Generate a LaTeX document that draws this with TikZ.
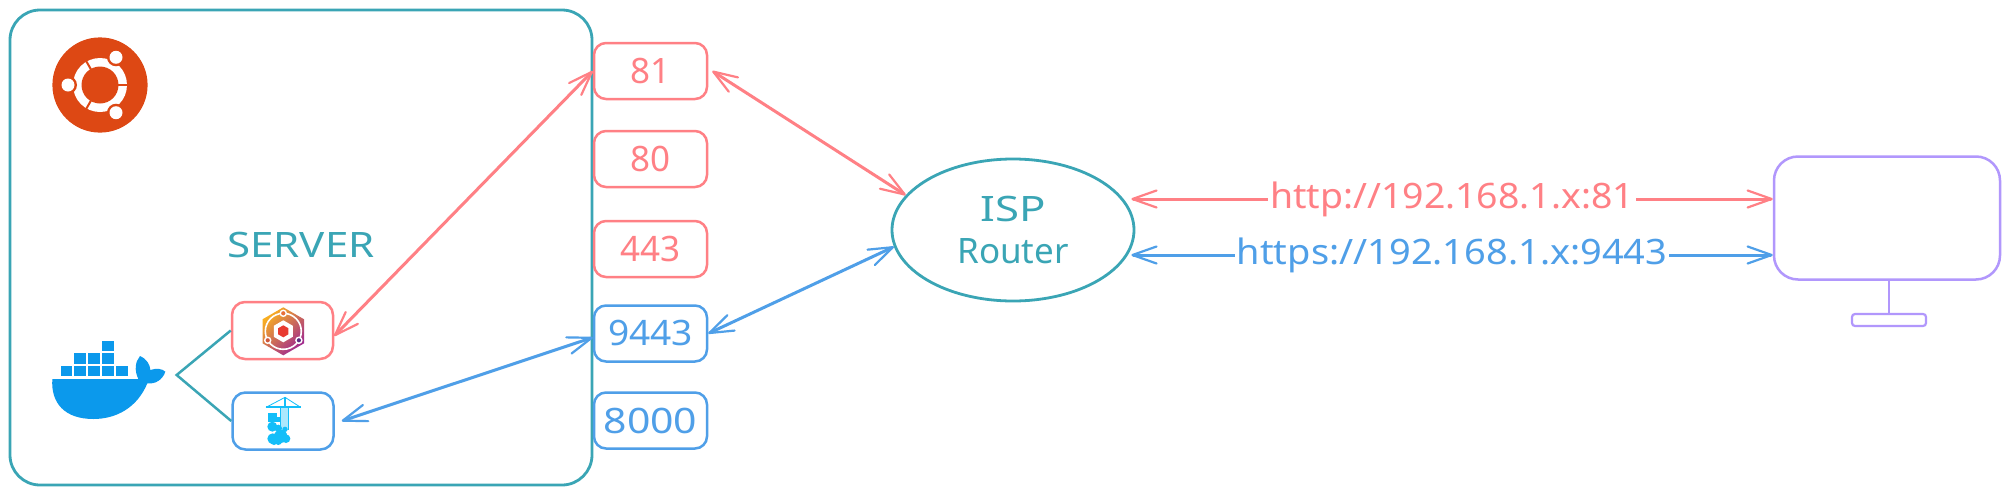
\documentclass[tikz,border=0pt]{standalone}
\usepackage{fontspec}
\usepackage{graphicx}
\setmainfont{Noto Sans}
\usetikzlibrary{arrows.meta,shapes.geometric,calc}
\definecolor{teal1}{HTML}{3AA5B5}
\definecolor{red1}{HTML}{FF8085}
\definecolor{blue1}{HTML}{4F9FE8}
\definecolor{purp}{HTML}{B197FC}
\definecolor{ubu}{HTML}{DD4814}
\definecolor{dock}{HTML}{0B99EC}
\definecolor{ptnc}{HTML}{13BEF9}
\definecolor{npmA}{HTML}{F9B020}
\definecolor{npmB}{HTML}{E83A30}
\definecolor{npmC}{HTML}{A02890}
\definecolor{npmD}{HTML}{E8703A}
\definecolor{npmE}{HTML}{5A2A80}
\definecolor{npmF}{HTML}{D0583A}
\newcommand{\handfont}{\fontsize{17.5}{21.2}\selectfont}
\tikzset{x=0.5pt,y=-0.5pt,
 port/.style={draw,rounded corners=6pt,line width=1.25pt,minimum width=56.5pt,minimum height=28pt,inner sep=0pt,font=\handfont},
 rp/.style={port,draw=red1,text=red1},
 bp/.style={port,draw=blue1,text=blue1},
 iconbox/.style={minimum width=50.5pt,minimum height=28.5pt,rounded corners=6.5pt},
 biarrow/.style={line width=1.5pt,line cap=round,{Straight Barb[length=12pt,width=8.5pt,round,line width=1.1pt]}-{Straight Barb[length=12pt,width=8.5pt,round,line width=1.1pt]}},
 urllabel/.style={fill=white,inner xsep=1pt,inner ysep=0pt,anchor=base,yshift=-4.5pt,font=\handfont},
 zoomunits/.style={x=0.16667pt,y=-0.16667pt},
}
\begin{document}
\begin{tikzpicture}
\useasboundingbox[fill=white] (0,0) rectangle (2010,493);
% server frame
\node[draw=teal1,line width=1.4pt,rounded corners=15pt,minimum width=291pt,minimum height=237.5pt,inner sep=0pt] (srv) at (301,247.5) {};
% ports
\node[rp] (p81) at (650.5,71) {81};
\node[rp] (p80) at (650.5,159) {80};
\node[rp] (p443) at (650.5,249) {443};
\node[bp] (p9443) at (650.5,333.5) {\scalebox{1.06}[1]{9443}};
\node[bp] (p8000) at (650.5,420.5) {\scalebox{1.17}[1]{8000}};
\node[text=teal1,font=\handfont] (lab) at (301,245) {\scalebox{1.2}[1]{SERVER}};
% containers
\node[rp,iconbox] (npm) at (282.5,330.5) {};
\node[bp,iconbox] (ptn) at (283,421) {};
% router and screen
\node[draw=teal1,ellipse,line width=1.4pt,minimum width=121pt,minimum height=71pt,inner sep=0pt,align=center,text=teal1,font=\handfont] (isp) at (1013,230) {\scalebox{1.25}[1]{ISP}\\Router};
\node[draw=purp,line width=1.25pt,rounded corners=12pt,minimum width=113pt,minimum height=61.5pt,inner sep=0pt] (pc) at (1887,218) {};
\node[draw=purp,line width=1.1pt,rounded corners=1.5pt,minimum width=37pt,minimum height=6pt,inner sep=0pt] (base) at (1889,320) {};
\draw[purp,line width=1.25pt] (pc.south -| base.north) -- (base.north);
% ubuntu
\fill[ubu] (100,85) circle[radius=47.6];
\fill[white] (100,85) circle[radius=27];
\fill[ubu] (100,85) circle[radius=18.5];
\foreach \a in {0,120,240}{\draw[ubu,line width=1pt] ($(100,85)+(\a:18)$) -- ($(100,85)+(\a:28)$);}
\foreach \a in {60,180,300}{
 \fill[ubu] ($(100,85)+(\a:32)$) circle[radius=9];
 \fill[white] ($(100,85)+(\a:32)$) circle[radius=6.5];}
% docker
\begin{scope}[shift={(30,320)},zoomunits]
 \fill[dock] (217,62) rectangle ++(35,31);
 \foreach \xx in {133,175,217}{\fill[dock] (\xx,100) rectangle ++(35,31);}
 \foreach \xx in {92,133,175,217,258}{\fill[dock] (\xx,138) rectangle ++(35,31);}
 \fill[dock] (67,177) -- (325,177) .. controls (312,150) and (316,125) .. (330,108)
   .. controls (352,118) and (360,135) .. (361,150) .. controls (380,143) and (398,147) .. (406,155)
   .. controls (398,180) and (375,193) .. (352,190) .. controls (322,262) and (260,297) .. (190,297)
   .. controls (105,297) and (62,250) .. (67,177) -- cycle;
 \coordinate (apex) at (440,165);
\end{scope}
\draw[teal1,line width=1.25pt,line join=miter] (npm.west) -- (apex) -- (ptn.west);
% nginx proxy manager icon
\begin{scope}[shift={(283.3,331.3)}]
 \shade[left color=npmA,middle color=npmB,right color=npmC,shading angle=45]
  (-90:24) -- (-30:24) -- (30:24) -- (90:24) -- (150:24) -- (210:24) -- cycle;
 \draw[white,line width=0.8pt] (0,0) circle[radius=18];
 \fill[white] (-30:11) -- (30:11) -- (90:11) -- (150:11) -- (210:11) -- (270:11) -- cycle;
 \fill[npmB] (-30:6) -- (30:6) -- (90:6) -- (150:6) -- (210:6) -- (270:6) -- cycle;
 \foreach \a/\c in {-90/npmD,30/npmE,150/npmF}{
  \filldraw[draw=white,line width=0.7pt,fill=\c] (\a:18) circle[radius=3];}
\end{scope}
% portainer icon
\begin{scope}[shift={(30,320)},zoomunits]
 \fill[ptnc!35] (752,262) rectangle (775,330);
 \draw[ptnc,line width=0.9pt] (708,262) -- (812,262);
 \draw[ptnc,line width=0.4pt] (708,262) -- (765,232) -- (812,262);
 \draw[ptnc,line width=0.7pt] (765,232) -- (765,262);
 \draw[ptnc,line width=0.7pt] (752,262) -- (752,330) (775,262) -- (775,330);
 \fill[ptnc] (715,280) rectangle (740,305);
 \fill[ptnc] (742,292) rectangle (752,305);
 \fill[ptnc] (727,320) circle[radius=15] (745,325) circle[radius=11] (765,328) circle[radius=8];
 \fill[ptnc] (728,356) circle[radius=16] (752,349) circle[radius=20] (768,356) circle[radius=13] (745,364) circle[radius=11] (732,362) circle[radius=13];
\end{scope}
% connectors
\draw[biarrow,red1] (npm.-6) -- (p81.west);
\draw[biarrow,red1] ([xshift=2pt]p81.east) -- (isp.162);
\draw[biarrow,blue1] ([xshift=3.5pt]ptn.east) -- ([yshift=-2pt]p9443.west);
\draw[biarrow,blue1] (p9443.east) -- (isp.188);
\draw[biarrow,red1] ([xshift=-2pt,yshift=15.5pt]isp.east) -- node[urllabel,text=red1] (urla) {\scalebox{1.07}[1]{http://192.168.1.x:81}} ([yshift=9.5pt]pc.west);
\draw[biarrow,blue1] ([xshift=-2pt,yshift=-12.5pt]isp.east) -- node[urllabel,text=blue1] (urlb) {\scalebox{1.085}[1]{https://192.168.1.x:9443}} ([yshift=-18.5pt]pc.west);
\end{tikzpicture}
\end{document}
